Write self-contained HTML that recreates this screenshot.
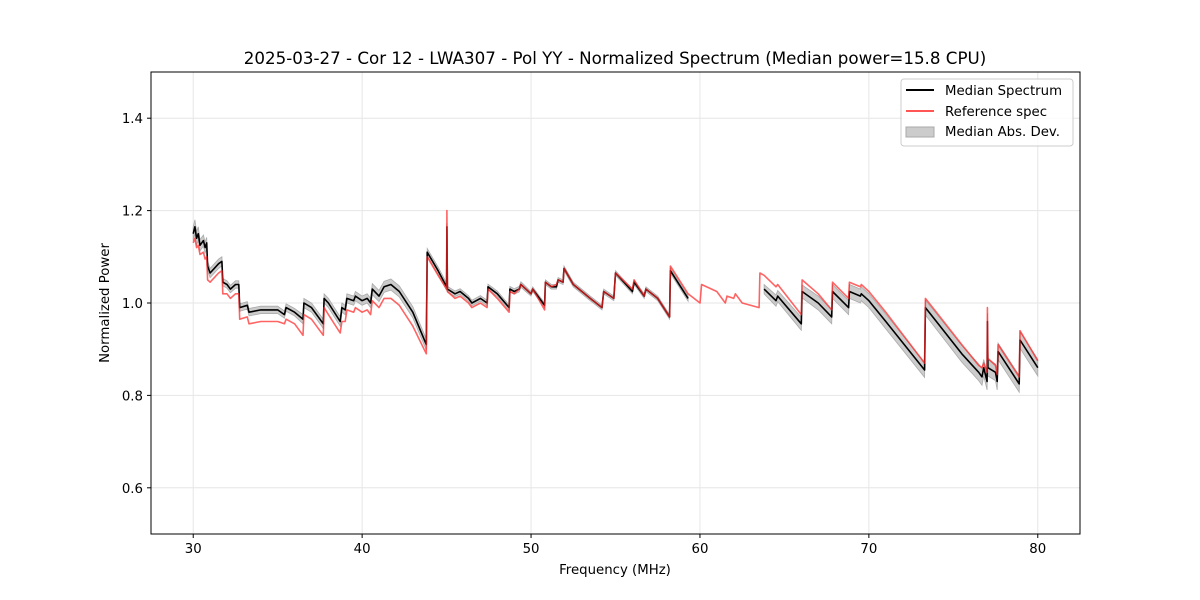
<!DOCTYPE html>
<html><head><meta charset="utf-8"><style>
body{margin:0;background:#fff}
svg{display:block;font-family:"DejaVu Sans","Liberation Sans",sans-serif}
</style></head><body>
<svg id="chart" width="1200" height="600" viewBox="0 0 1200 600">
<rect width="1200" height="600" fill="#fff"/>
<text x="615" y="64" text-anchor="middle" font-size="16.7">2025-03-27 - Cor 12 - LWA307 - Pol YY - Normalized Spectrum (Median power=15.8 CPU)</text>
<g id="grid"></g>
<g id="marks"></g>
<rect x="151" y="72" width="929" height="462" fill="none" stroke="#000" stroke-width="1"/>
<g id="ticks"></g>
<text x="615" y="574" text-anchor="middle" font-size="13.3">Frequency (MHz)</text>
<text transform="translate(109,303) rotate(-90)" text-anchor="middle" font-size="13.3">Normalized Power</text>
<g>
<rect x="901" y="79" width="172" height="67" rx="3" fill="#fff" fill-opacity="0.8" stroke="#ccc"/>
<line x1="906" y1="90" x2="934" y2="90" stroke="#000" stroke-width="2"/>
<text x="945" y="95" font-size="13.3">Median Spectrum</text>
<line x1="906" y1="111" x2="934" y2="111" stroke="#f55" stroke-width="2"/>
<text x="945" y="116" font-size="13.3">Reference spec</text>
<rect x="906" y="127" width="28" height="10" fill="#ccc" stroke="#aaa"/>
<text x="945" y="136" font-size="13.3">Median Abs. Dev.</text>
</g>
</svg>
<script>
const freqs=[30.0,30.1,30.2,30.3,30.4,30.6,30.7,30.8,30.85,31.0,31.5,31.7,31.75,32.0,32.2,32.5,32.7,32.75,33.2,33.3,34.0,35.0,35.4,35.5,36.0,36.5,36.55,37.0,37.7,37.75,38.0,38.7,38.8,39.0,39.1,39.5,39.6,40.0,40.3,40.5,40.6,41.0,41.3,41.7,42.2,43.0,43.8,43.85,44.5,45.0,45.02,45.05,45.5,45.8,46.3,46.5,47.0,47.4,47.45,48.0,48.7,48.75,49.0,49.3,49.4,50.0,50.1,50.5,50.8,50.85,51.2,51.5,51.6,51.9,51.95,52.5,53.5,54.2,54.3,54.9,55.0,56.0,56.1,56.7,56.8,57.5,58.2,58.25,59.3,60.0,60.1,61.0,61.5,61.6,62.0,62.1,62.5,63.5,63.55,63.8,64.5,64.6,66.0,66.05,67.0,67.8,67.85,68.8,68.85,69.5,69.55,70.0,71.0,73.3,73.35,74.0,75.5,76.5,76.7,76.8,77.0,77.02,77.05,77.5,77.6,77.65,78.9,78.95,80.0];
const medianVals=[1.150,1.165,1.140,1.150,1.125,1.135,1.120,1.130,1.080,1.065,1.085,1.090,1.045,1.040,1.030,1.040,1.040,0.990,0.995,0.980,0.985,0.985,0.975,0.990,0.980,0.965,1.000,0.990,0.955,1.010,1.000,0.960,0.990,0.985,1.010,1.005,1.015,1.005,1.010,1.000,1.030,1.015,1.035,1.040,1.025,0.980,0.910,1.110,1.070,1.035,1.165,1.030,1.020,1.025,1.010,1.000,1.010,1.000,1.035,1.020,0.990,1.030,1.025,1.030,1.040,1.020,1.030,1.010,0.995,1.045,1.035,1.035,1.050,1.045,1.075,1.040,1.010,0.990,1.025,1.010,1.065,1.025,1.045,1.015,1.030,1.010,0.970,1.070,1.010,null,null,null,null,null,null,null,null,null,null,1.030,1.005,1.015,0.955,1.025,1.000,0.970,1.025,0.990,1.025,1.015,1.020,1.005,0.960,0.855,0.990,0.960,0.890,0.850,0.840,0.860,0.830,0.960,0.860,0.850,0.830,0.895,0.825,0.920,0.860];
const refVals=[1.130,1.140,1.120,1.125,1.105,1.110,1.095,1.100,1.050,1.045,1.065,1.070,1.020,1.020,1.010,1.020,1.020,0.965,0.970,0.955,0.960,0.960,0.955,0.965,0.955,0.930,0.975,0.965,0.930,0.990,0.975,0.935,0.960,0.960,0.985,0.980,0.990,0.980,0.985,0.975,1.005,0.990,1.010,1.010,0.995,0.950,0.890,1.100,1.060,1.030,1.200,1.025,1.010,1.015,1.000,0.990,1.000,0.990,1.030,1.010,0.980,1.025,1.020,1.030,1.040,1.020,1.030,1.005,0.985,1.045,1.035,1.040,1.050,1.045,1.075,1.040,1.010,0.990,1.025,1.010,1.065,1.030,1.050,1.015,1.030,1.010,0.970,1.080,1.020,1.000,1.040,1.025,1.000,1.015,1.010,1.020,1.000,0.990,1.065,1.060,1.035,1.040,0.975,1.050,1.020,0.985,1.045,1.010,1.045,1.035,1.040,1.025,0.980,0.870,1.010,0.980,0.910,0.865,0.860,0.870,0.850,0.990,0.880,0.865,0.845,0.910,0.840,0.940,0.875];
const madVals=[0.015,0.015,0.015,0.015,0.012,0.012,0.012,0.012,0.010,0.010,0.010,0.010,0.008,0.008,0.008,0.008,0.008,0.008,0.008,0.008,0.008,0.008,0.008,0.008,0.008,0.010,0.010,0.010,0.010,0.010,0.010,0.010,0.010,0.010,0.010,0.010,0.010,0.010,0.010,0.010,0.012,0.012,0.012,0.012,0.012,0.012,0.012,0.008,0.008,0.008,0.008,0.006,0.006,0.006,0.006,0.006,0.006,0.006,0.006,0.006,0.006,0.006,0.006,0.006,0.006,0.005,0.005,0.005,0.005,0.005,0.005,0.005,0.005,0.005,0.005,0.005,0.005,0.005,0.005,0.005,0.005,0.005,0.005,0.005,0.005,0.005,0.005,0.006,0.006,0,0,0,0,0,0,0,0,0,0,0.010,0.012,0.012,0.014,0.014,0.015,0.015,0.015,0.015,0.015,0.015,0.015,0.015,0.016,0.016,0.016,0.017,0.018,0.018,0.018,0.018,0.018,0.018,0.018,0.018,0.018,0.018,0.018,0.018,0.018];
const xTicks=[30,40,50,60,70,80];
const yTicks=[0.6,0.8,1.0,1.2,1.4];
const yTickLabels=["0.6","0.8","1.0","1.2","1.4"];

const X0=151,X1=1080,Y0=72,Y1=534,xmin=27.5,xmax=82.5,ymin=0.5,ymax=1.5;
const sx=f=>X0+(f-xmin)/(xmax-xmin)*(X1-X0);
const sy=v=>Y1-(v-ymin)/(ymax-ymin)*(Y1-Y0);
const NS='http://www.w3.org/2000/svg';
function mk(tag,attrs,parent){const e=document.createElementNS(NS,tag);for(const k in attrs)e.setAttribute(k,attrs[k]);parent.appendChild(e);return e;}
const grid=document.getElementById('grid'),ticks=document.getElementById('ticks'),marks=document.getElementById('marks');
xTicks.forEach(t=>{
  const g=mk('line',{x1:sx(t),x2:sx(t),y1:Y0,y2:Y1,stroke:'#e6e6e6','stroke-width':1},grid);
  
  
  const tk=mk('line',{x1:sx(t),x2:sx(t),y1:Y1,y2:Y1+4,stroke:'#000'},ticks);
  
  
  const tl=mk('text',{x:sx(t),y:Y1+19,'text-anchor':'middle','font-size':13.3},ticks);
  tl.textContent=String(t);
  
  
});
yTicks.forEach((t,i)=>{
  const g=mk('line',{x1:X0,x2:X1,y1:sy(t),y2:sy(t),stroke:'#e6e6e6','stroke-width':1},grid);
  
  
  const tk=mk('line',{x1:X0-4,x2:X0,y1:sy(t),y2:sy(t),stroke:'#000'},ticks);
  
  
  const tl=mk('text',{x:X0-8,y:sy(t)+5,'text-anchor':'end','font-size':13.3},ticks);
  tl.textContent=yTickLabels[i];
  
  
});
const segs=[];let cur=[];
freqs.forEach((f,i)=>{if(medianVals[i]==null){if(cur.length)segs.push(cur);cur=[];}else cur.push(i);});
if(cur.length)segs.push(cur);
segs.forEach(s=>{
  const up=s.map(i=>sx(freqs[i]).toFixed(1)+','+sy(medianVals[i]+madVals[i]).toFixed(1));
  const dn=s.slice().reverse().map(i=>sx(freqs[i]).toFixed(1)+','+sy(medianVals[i]-madVals[i]).toFixed(1));
  const b=mk('polygon',{points:up.concat(dn).join(' '),fill:'#bbb','fill-opacity':0.75,stroke:'#aaa','stroke-width':0.8},marks);
  
  
});
segs.forEach(s=>{
  const l=mk('polyline',{points:s.map(i=>sx(freqs[i]).toFixed(1)+','+sy(medianVals[i]).toFixed(1)).join(' '),fill:'none',stroke:'#000','stroke-width':1.6,'stroke-linejoin':'round'},marks);
  
  
});
const r=mk('polyline',{points:freqs.map((f,i)=>sx(f).toFixed(1)+','+sy(refVals[i]).toFixed(1)).join(' '),fill:'none',stroke:'#f22','stroke-opacity':0.7,'stroke-width':1.6,'stroke-linejoin':'round'},marks);


</script>
</body></html>
